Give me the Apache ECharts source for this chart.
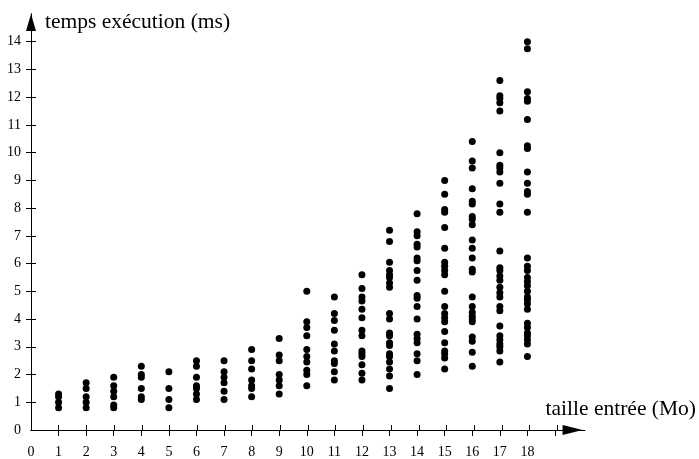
<!DOCTYPE html>
<html>
<head>
<meta charset="utf-8">
<script src="https://cdn.jsdelivr.net/npm/echarts@6/dist/echarts.min.js"></script>
<style>html,body{margin:0;padding:0;background:#fff}#c{width:699px;height:459px}</style>
</head>
<body>
<div id="c"></div>
<script>
// input size (Mo) for each column
const sizes = [1,2,3,4,5,6,7,8,9,10,11,12,13,14,15,16,17,18];
// execution times (ms) read per column
const t1 = [1.3, 1.2, 1.0, 0.8];
const t2 = [1.7, 1.5, 1.2, 1.0, 0.8];
const t3 = [1.9, 1.6, 1.4, 1.2, 0.9, 0.8];
const t4 = [2.3, 2.0, 1.9, 1.5, 1.2, 1.1];
const t5 = [2.1, 1.5, 1.1, 0.8];
const t6 = [2.5, 2.3, 1.9, 1.6, 1.5, 1.3, 1.1];
const t7 = [2.5, 2.1, 1.9, 1.7, 1.4, 1.1];
const t8 = [2.9, 2.5, 2.2, 1.8, 1.6, 1.5, 1.2];
const t9 = [3.3, 2.7, 2.5, 2.0, 1.8, 1.6, 1.3];
const t10 = [5.0, 3.9, 3.7, 3.4, 2.9, 2.65, 2.45, 2.15, 2.0, 1.6];
const t11 = [4.8, 4.2, 3.95, 3.6, 3.1, 2.85, 2.5, 2.4, 2.1, 1.8];
const t12 = [5.6, 5.1, 4.8, 4.65, 4.35, 4.05, 3.6, 3.4, 2.85, 2.75, 2.65, 2.35, 2.05, 1.8];
const t13 = [7.2, 6.8, 6.05, 5.75, 5.6, 5.5, 5.3, 5.15, 4.2, 4.0, 3.5, 3.4, 3.15, 3.05, 2.75, 2.65, 2.45, 2.2, 1.95, 1.5];
const t14 = [7.8, 7.15, 7.0, 6.7, 6.6, 6.2, 6.1, 5.75, 5.4, 4.85, 4.75, 4.45, 4.0, 3.45, 3.3, 3.15, 2.75, 2.5, 2.0];
const t15 = [9.0, 8.5, 7.95, 7.85, 7.3, 6.55, 6.05, 5.9, 5.75, 5.6, 5.0, 4.45, 4.2, 4.05, 3.9, 3.55, 3.15, 2.85, 2.75, 2.6, 2.2];
const t16 = [10.4, 9.7, 9.45, 8.7, 8.25, 8.15, 7.7, 7.6, 7.4, 6.85, 6.55, 6.2, 5.8, 5.7, 4.8, 4.45, 4.25, 4.1, 4.0, 3.9, 3.35, 3.2, 2.8, 2.3];
const t17 = [12.6, 12.05, 11.95, 11.8, 11.5, 10.0, 9.55, 9.45, 9.3, 8.9, 8.15, 7.85, 6.45, 5.85, 5.75, 5.55, 5.4, 5.15, 4.95, 4.8, 4.45, 4.3, 3.75, 3.4, 3.25, 3.1, 3.0, 2.85, 2.45];
const t18 = [14.0, 13.75, 12.2, 11.95, 11.85, 11.2, 10.25, 10.15, 9.3, 8.9, 8.6, 8.5, 7.85, 6.2, 5.9, 5.75, 5.5, 5.35, 5.2, 5.0, 4.8, 4.7, 4.55, 4.35, 3.85, 3.7, 3.5, 3.4, 3.25, 3.1, 2.65];
// tick / label values
const xTicks = [1,2,3,4,5,6,7,8,9,10,11,12,13,14,15,16,17,18,19];
const yTicks = [1,2,3,4,5,6,7,8,9,10,11,12,13,14];
const xLabels = [0,1,2,3,4,5,6,7,8,9,10,11,12,13,14,15,16,17,18];
const yLabels = [0,1,2,3,4,5,6,7,8,9,10,11,12,13,14];
const xName = 'taille entrée (Mo)';
const yName = 'temps exécution (ms)';

const columns = [t1,t2,t3,t4,t5,t6,t7,t8,t9,t10,t11,t12,t13,t14,t15,t16,t17,t18];
const points = [];
columns.forEach((col, i) => col.forEach(v => points.push([sizes[i], v])));

const FONT = 'Liberation Serif';
const GRID = {left: 31, width: 554, top: 14, bottom: 29, containLabel: false};
const lineStyle = {color: '#000', width: 1};

const chart = echarts.init(document.getElementById('c'));
chart.setOption({
  animation: false,
  backgroundColor: '#fff',
  grid: [Object.assign({}, GRID), Object.assign({}, GRID)],
  xAxis: [
    {
      type: 'value', gridIndex: 0, min: 0, max: 20, interval: 1, position: 'bottom', splitLine: {show: false},
      name: xName, nameLocation: 'end', nameGap: -37,
      nameTextStyle: {fontFamily: FONT, fontSize: 21.5, color: '#000', align: 'left', verticalAlign: 'bottom', padding: [0,0,10,0]},
      axisLine: {show: true, onZero: false, lineStyle: lineStyle, symbol: ['none', 'triangle'], symbolSize: [10, 20], symbolOffset: [0, -10]},
      axisTick: {show: true, inside: false, length: 6, lineStyle: {color: '#000'}, customValues: xTicks},
      axisLabel: {show: true, margin: 15, fontFamily: FONT, fontSize: 14, color: '#000', customValues: xLabels}
    },
    {
      type: 'value', gridIndex: 1, min: 0, max: 20, interval: 1, position: 'bottom', splitLine: {show: false},
      axisLine: {show: true, onZero: false, lineStyle: lineStyle, symbol: ['none', 'none']},
      axisTick: {show: true, inside: true, length: 5, lineStyle: {color: '#000'}, customValues: xTicks},
      axisLabel: {show: false}
    }
  ],
  yAxis: [
    {
      type: 'value', gridIndex: 0, min: 0, max: 15, interval: 1, position: 'left', splitLine: {show: false},
      name: yName, nameLocation: 'end', nameGap: -8,
      nameTextStyle: {fontFamily: FONT, fontSize: 21.5, color: '#000', align: 'left', verticalAlign: 'middle', padding: [0,0,0,14]},
      axisLine: {show: true, onZero: false, lineStyle: lineStyle, symbol: ['none', 'triangle'], symbolSize: [10, 17], symbolOffset: [0, -8.5]},
      axisTick: {show: true, inside: false, length: 5, lineStyle: {color: '#000'}, customValues: yTicks},
      axisLabel: {show: true, margin: 10, fontFamily: FONT, fontSize: 14, color: '#000', customValues: yLabels}
    },
    {
      type: 'value', gridIndex: 1, min: 0, max: 15, interval: 1, position: 'left', splitLine: {show: false},
      axisLine: {show: true, onZero: false, lineStyle: lineStyle, symbol: ['none', 'none']},
      axisTick: {show: true, inside: true, length: 5, lineStyle: {color: '#000'}, customValues: yTicks},
      axisLabel: {show: false}
    }
  ],
  series: [{
    type: 'scatter',
    xAxisIndex: 0, yAxisIndex: 0,
    data: points,
    symbol: 'circle',
    symbolSize: 7,
    itemStyle: {color: '#000', opacity: 1}
  }]
});
</script>
</body>
</html>
